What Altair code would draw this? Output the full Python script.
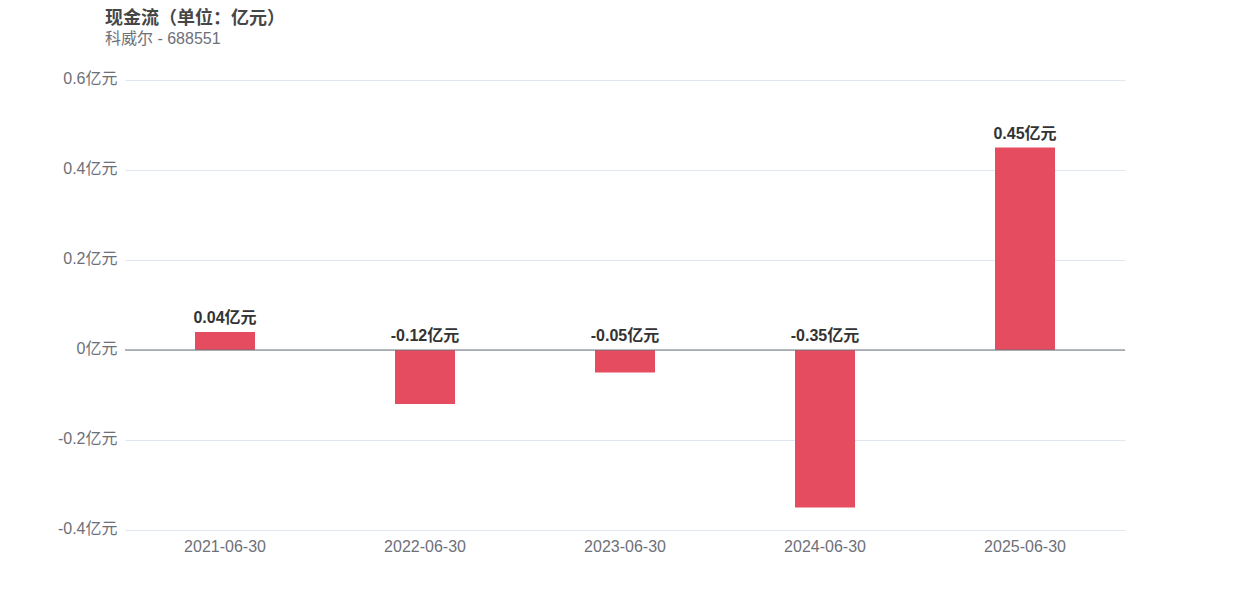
import altair as alt
import pandas as pd

dates = ["2021-06-30", "2022-06-30", "2023-06-30", "2024-06-30", "2025-06-30"]
values = [0.04, -0.12, -0.05, -0.35, 0.45]
labels = ["0.04亿元", "-0.12亿元", "-0.05亿元", "-0.35亿元", "0.45亿元"]

df = pd.DataFrame({"date": dates, "value": values, "label": labels})
df["labelpos"] = df["value"].clip(lower=0)

FONT = "Liberation Sans, Noto Sans CJK SC, sans-serif"

x = alt.X("date:N", sort=dates, title=None,
          scale=alt.Scale(paddingInner=0.7, paddingOuter=0.35),
          axis=alt.Axis(labelAngle=0, ticks=False, domain=False, labelPadding=8,
                        labelFontSize=16, labelColor="#6e7079", labelFont=FONT, grid=False))
yscale = alt.Scale(domain=[-0.4, 0.6], nice=False)

bars = alt.Chart(df).mark_bar(color="#e54c5f").encode(
    x=x,
    y=alt.Y("value:Q", scale=yscale, title=None,
            axis=alt.Axis(values=[-0.4, -0.2, 0, 0.2, 0.4, 0.6],
                          labelExpr="replace(format(datum.value, '.1~f'), '\u2212', '-') + '亿元'",
                          ticks=False, domain=False, labelPadding=8, labelOffset=-2,
                          labelFontSize=16, labelColor="#6e7079", labelFont=FONT,
                          gridColor="#e0e6f1", gridWidth=1)),
)

text = alt.Chart(df).mark_text(baseline="bottom", dy=-6, fontSize=16, fontWeight="bold",
                               color="#333333", font=FONT).encode(
    x=alt.X("date:N", sort=dates),
    y=alt.Y("labelpos:Q", scale=yscale),
    text="label:N",
)

zero = alt.Chart(pd.DataFrame({"z": [0]})).mark_rule(color="#6e7079", strokeWidth=1).encode(
    y=alt.Y("z:Q", scale=yscale)
)

chart = alt.layer(bars, zero, text).properties(
    width=1000, height=450,
    autosize=alt.AutoSizeParams(type="none"),
    padding={"left": 117, "top": 72, "right": 100, "bottom": 50},
    title=alt.Title("现金流（单位：亿元）", subtitle="科威尔 - 688551",
                    anchor="start", frame="group", dx=-20, offset=23,
                    fontSize=18, fontWeight="bold", color="#464646", font=FONT,
                    subtitleFontSize=16, subtitleColor="#6e7079", subtitleFont=FONT,
                    subtitlePadding=3),
).configure_view(stroke=None)

chart.save("out.html", embed_options={"renderer": "svg", "actions": False})
